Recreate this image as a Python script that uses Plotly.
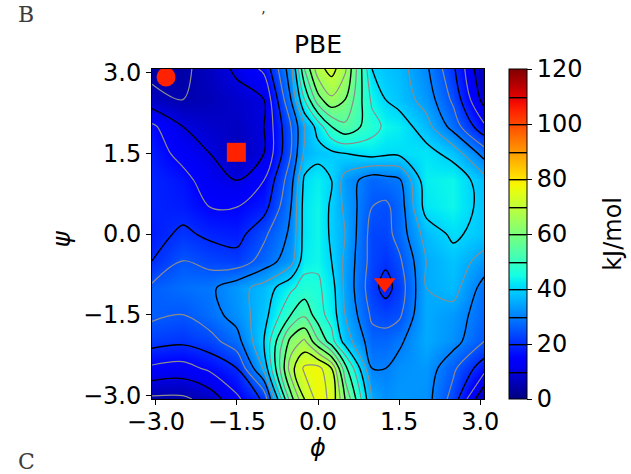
import numpy as np
import plotly.graph_objects as go

# ---- data (free energy in kJ/mol) ----
phi = [-3.07, -2.5, -2.0, -1.5, -1.0, -0.5, -0.25, 0.0, 0.25, 0.5, 1.0, 1.25, 1.5, 2.0, 2.5, 3.07]
psi = [-3.07, -2.5, -2.0, -1.5, -1.0, -0.5, 0.0, 0.5, 1.0, 1.5, 2.0, 2.5, 3.07]

energy = [
    [4, 4, 7, 14, 21, 58, 70, 77, 74, 60, 35, 32, 33, 32, 23, 5],      # psi -3.07
    [14, 13, 16, 20, 36, 68, 76, 77, 70, 52, 30, 30, 32, 33, 26, 17],  # psi -2.5
    [22, 21, 23, 28, 40, 62, 66, 56, 47, 38, 27, 27, 29, 35, 32, 25],  # psi -2.0
    [26, 25, 28, 32, 38, 50, 54, 47, 43, 35, 24, 23, 24, 35, 33, 27],  # psi -1.5
    [26, 28, 29, 33, 37, 44, 47, 46, 42, 34, 22, 18, 22, 35, 37, 28],  # psi -1.0
    [20, 25, 23, 22, 27, 33, 43, 44, 40, 34, 23, 21, 24, 35, 38, 33],  # psi -0.5
    [18, 21, 19, 18, 24, 31, 42, 44, 39, 35, 23, 23, 27, 37, 41, 38],  # psi 0.0
    [19, 18, 15, 15, 18, 30, 42, 44, 39, 34, 25, 24, 27, 42, 44, 38],  # psi 0.5
    [19, 17, 12, 10, 15, 28, 41, 43, 40, 33, 27, 28, 29, 43, 44, 37],  # psi 1.0
    [18, 13, 10, 6, 10, 25, 36, 38, 39, 40, 42, 41, 41, 42, 38, 28],   # psi 1.5
    [16, 10, 8, 7, 10, 25, 35, 42, 50, 54, 47, 44, 43, 37, 28, 16],    # psi 2.0
    [7, 5, 6, 8, 10, 30, 45, 58, 64, 60, 44, 40, 38, 33, 24, 8],       # psi 2.5
    [3, 4, 7, 11, 16, 33, 55, 68, 72, 66, 40, 38, 37, 31, 21, 5],      # psi 3.07
]

marker_phi = [-2.81, -1.51, 1.235]
marker_psi = [2.92, 1.52, -0.91]
marker_symbol = ["circle", "square", "triangle-down"]
marker_size = [19, 19, 19]

cbar_ticks = [0, 20, 40, 60, 80, 100, 120]
x_ticks = [-3.0, -1.5, 0.0, 1.5, 3.0]
x_ticklabels = ["\u22123.0", "\u22121.5", "0.0", "1.5", "3.0"]
y_ticks = [-3.0, -1.5, 0.0, 1.5, 3.0]
y_ticklabels = ["\u22123.0", "\u22121.5", "0.0", "1.5", "3.0"]

# ---- matplotlib "jet" colour scale ----
def jet(t):
    r = np.interp(t, [0, 0.35, 0.66, 0.89, 1], [0, 0, 1, 1, 0.5])
    g = np.interp(t, [0, 0.125, 0.375, 0.64, 0.91, 1], [0, 0, 1, 1, 0, 0])
    b = np.interp(t, [0, 0.11, 0.34, 0.65, 1], [0.5, 1, 1, 0, 0])
    return "rgb(%d,%d,%d)" % (round(r * 255), round(g * 255), round(b * 255))

jet_scale = [[float(t), jet(t)] for t in np.linspace(0, 1, 41)]

FONT = "DejaVu Sans"
FS = 24
fig = go.Figure()

fig.add_trace(go.Contour(
    x=phi, y=psi, z=energy,
    colorscale=jet_scale, zmin=0, zmax=120, zauto=False,
    contours=dict(coloring="heatmap", start=10, end=110, size=10),
    line=dict(color="black", width=1.4, smoothing=1.0),
    colorbar=dict(
        x=1.075, xanchor="left", xpad=0, y=0.5, yanchor="middle", ypad=0,
        len=1.0, lenmode="fraction",
        thickness=18, outlinecolor="black", outlinewidth=1,
        tickvals=cbar_ticks, ticks="outside", ticklen=5, tickcolor="black",
        tickfont=dict(family=FONT, size=FS, color="black"),
    ),
    hoverinfo="skip",
))

fig.add_trace(go.Contour(
    x=phi, y=psi, z=energy,
    contours=dict(coloring="none", start=5, end=115, size=10),
    line=dict(color="rgb(140,140,140)", width=1.2, smoothing=1.0),
    showscale=False, hoverinfo="skip",
))

fig.add_trace(go.Scatter(
    x=marker_phi, y=marker_psi, mode="markers", opacity=1,
    marker=dict(symbol=marker_symbol, size=marker_size, color="#ff2200",
                opacity=1, line=dict(width=0)),
    showlegend=False, hoverinfo="skip",
))

axis_common = dict(
    showgrid=False, zeroline=False, ticks="outside", ticklen=5, tickwidth=1,
    tickcolor="black", showline=True, linecolor="black", linewidth=1, mirror=True,
    tickfont=dict(family=FONT, size=FS, color="black"),
)

fig.update_layout(
    width=631, height=474,
    margin=dict(l=152, r=147, t=69, b=75),
    paper_bgcolor="white", plot_bgcolor="white",
    showlegend=False,
    xaxis=dict(range=[-3.07, 3.07], tickvals=x_ticks, ticktext=x_ticklabels,
               ticklabelstandoff=-4, **axis_common),
    yaxis=dict(range=[-3.07, 3.07], tickvals=y_ticks, ticktext=y_ticklabels,
               **axis_common),
    annotations=[
        dict(text="PBE", x=0.5, y=1.073, xref="paper", yref="paper",
             xanchor="center", yanchor="middle", showarrow=False,
             font=dict(family=FONT, size=FS + 1, color="black")),
        dict(text="<i>\u03d5</i>", x=0.5, y=-0.148, xref="paper", yref="paper",
             xanchor="center", yanchor="middle", showarrow=False,
             font=dict(family=FONT, size=FS, color="black")),
        dict(text="<i>\u03c8</i>", x=-0.27, y=0.485, xref="paper", yref="paper",
             xanchor="center", yanchor="middle", showarrow=False, textangle=-90,
             font=dict(family=FONT, size=FS, color="black")),
        dict(text="kJ/mol", x=1.388, y=0.5, xref="paper", yref="paper",
             xanchor="center", yanchor="middle", showarrow=False, textangle=-90,
             font=dict(family=FONT, size=FS, color="black")),
        dict(text="B", x=-0.41, y=1.165, xref="paper", yref="paper",
             xanchor="left", yanchor="middle", showarrow=False,
             font=dict(family="DejaVu Serif", size=22, color="rgb(60,60,60)")),
        dict(text="\u2019", x=0.333, y=1.158, xref="paper", yref="paper",
             xanchor="center", yanchor="middle", showarrow=False,
             font=dict(family="DejaVu Serif", size=14, color="rgb(40,40,40)")),
        dict(text="C", x=-0.41, y=-0.19, xref="paper", yref="paper",
             xanchor="left", yanchor="middle", showarrow=False,
             font=dict(family="DejaVu Serif", size=22, color="rgb(60,60,60)")),
    ],
)

fig.write_html("out.html")
